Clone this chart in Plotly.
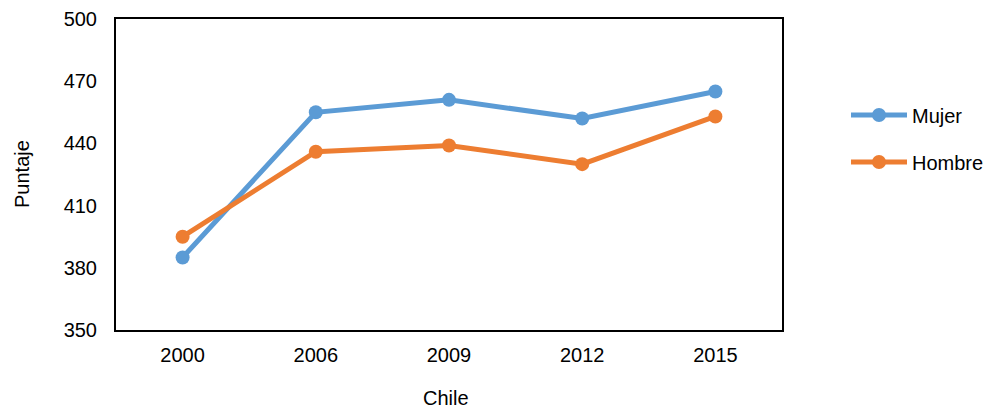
import plotly.graph_objects as go

years = ["2000", "2006", "2009", "2012", "2015"]
mujer = [385, 455, 461, 452, 465]
hombre = [395, 436, 439, 430, 453]
y_ticks = [350, 380, 410, 440, 470, 500]

blue = "#5B9BD5"
orange = "#ED7D31"
font = "Liberation Sans, Arial, sans-serif"
fs = 20

L, R, T, B, W, H = 116, 207, 19, 79, 989, 409
pw, ph = W - L - R, H - T - B

def px_x(x):
    return (x - L) / pw

def px_y(y):
    return 1 - (y - T) / ph

fig = go.Figure()
fig.add_trace(go.Scatter(x=years, y=mujer, name="Mujer", mode="lines+markers",
                         line=dict(color=blue, width=5), marker=dict(color=blue, size=14),
                         legend="legend"))
fig.add_trace(go.Scatter(x=years, y=hombre, name="Hombre", mode="lines+markers",
                         line=dict(color=orange, width=5), marker=dict(color=orange, size=14),
                         legend="legend2"))

leg_common = dict(font=dict(family=font, size=fs, color="#000"), bgcolor="rgba(0,0,0,0)",
                  itemwidth=56, xanchor="left", yanchor="middle", borderwidth=0)
fig.update_layout(
    width=W, height=H,
    margin=dict(l=L, r=R, t=T, b=B, autoexpand=False),
    paper_bgcolor="white", plot_bgcolor="white",
    font=dict(family=font, size=fs, color="#000"),
    xaxis=dict(type="category", range=[-0.5, 4.5], showline=True, linecolor="black", linewidth=2,
               mirror=True, ticks="", showgrid=False, ticklabelstandoff=6, automargin=False,
               tickfont=dict(size=fs)),
    yaxis=dict(range=[350, 500], tickvals=y_ticks, showline=True, linecolor="black", linewidth=2,
               mirror=True, ticks="", showgrid=False, zeroline=False, ticklabelstandoff=13,
               automargin=False, tickfont=dict(size=fs)),
    legend=dict(x=px_x(846), y=px_y(115), **leg_common),
    legend2=dict(x=px_x(846), y=px_y(162), **leg_common),
    showlegend=True,
    annotations=[
        dict(text="Chile", xref="paper", yref="paper", x=px_x(446), y=px_y(398),
             xanchor="center", yanchor="middle", showarrow=False, font=dict(size=fs)),
        dict(text="Puntaje", xref="paper", yref="paper", x=px_x(22), y=px_y(174),
             xanchor="center", yanchor="middle", showarrow=False, textangle=-90,
             font=dict(size=fs)),
    ],
)
fig.write_html("out.html")
